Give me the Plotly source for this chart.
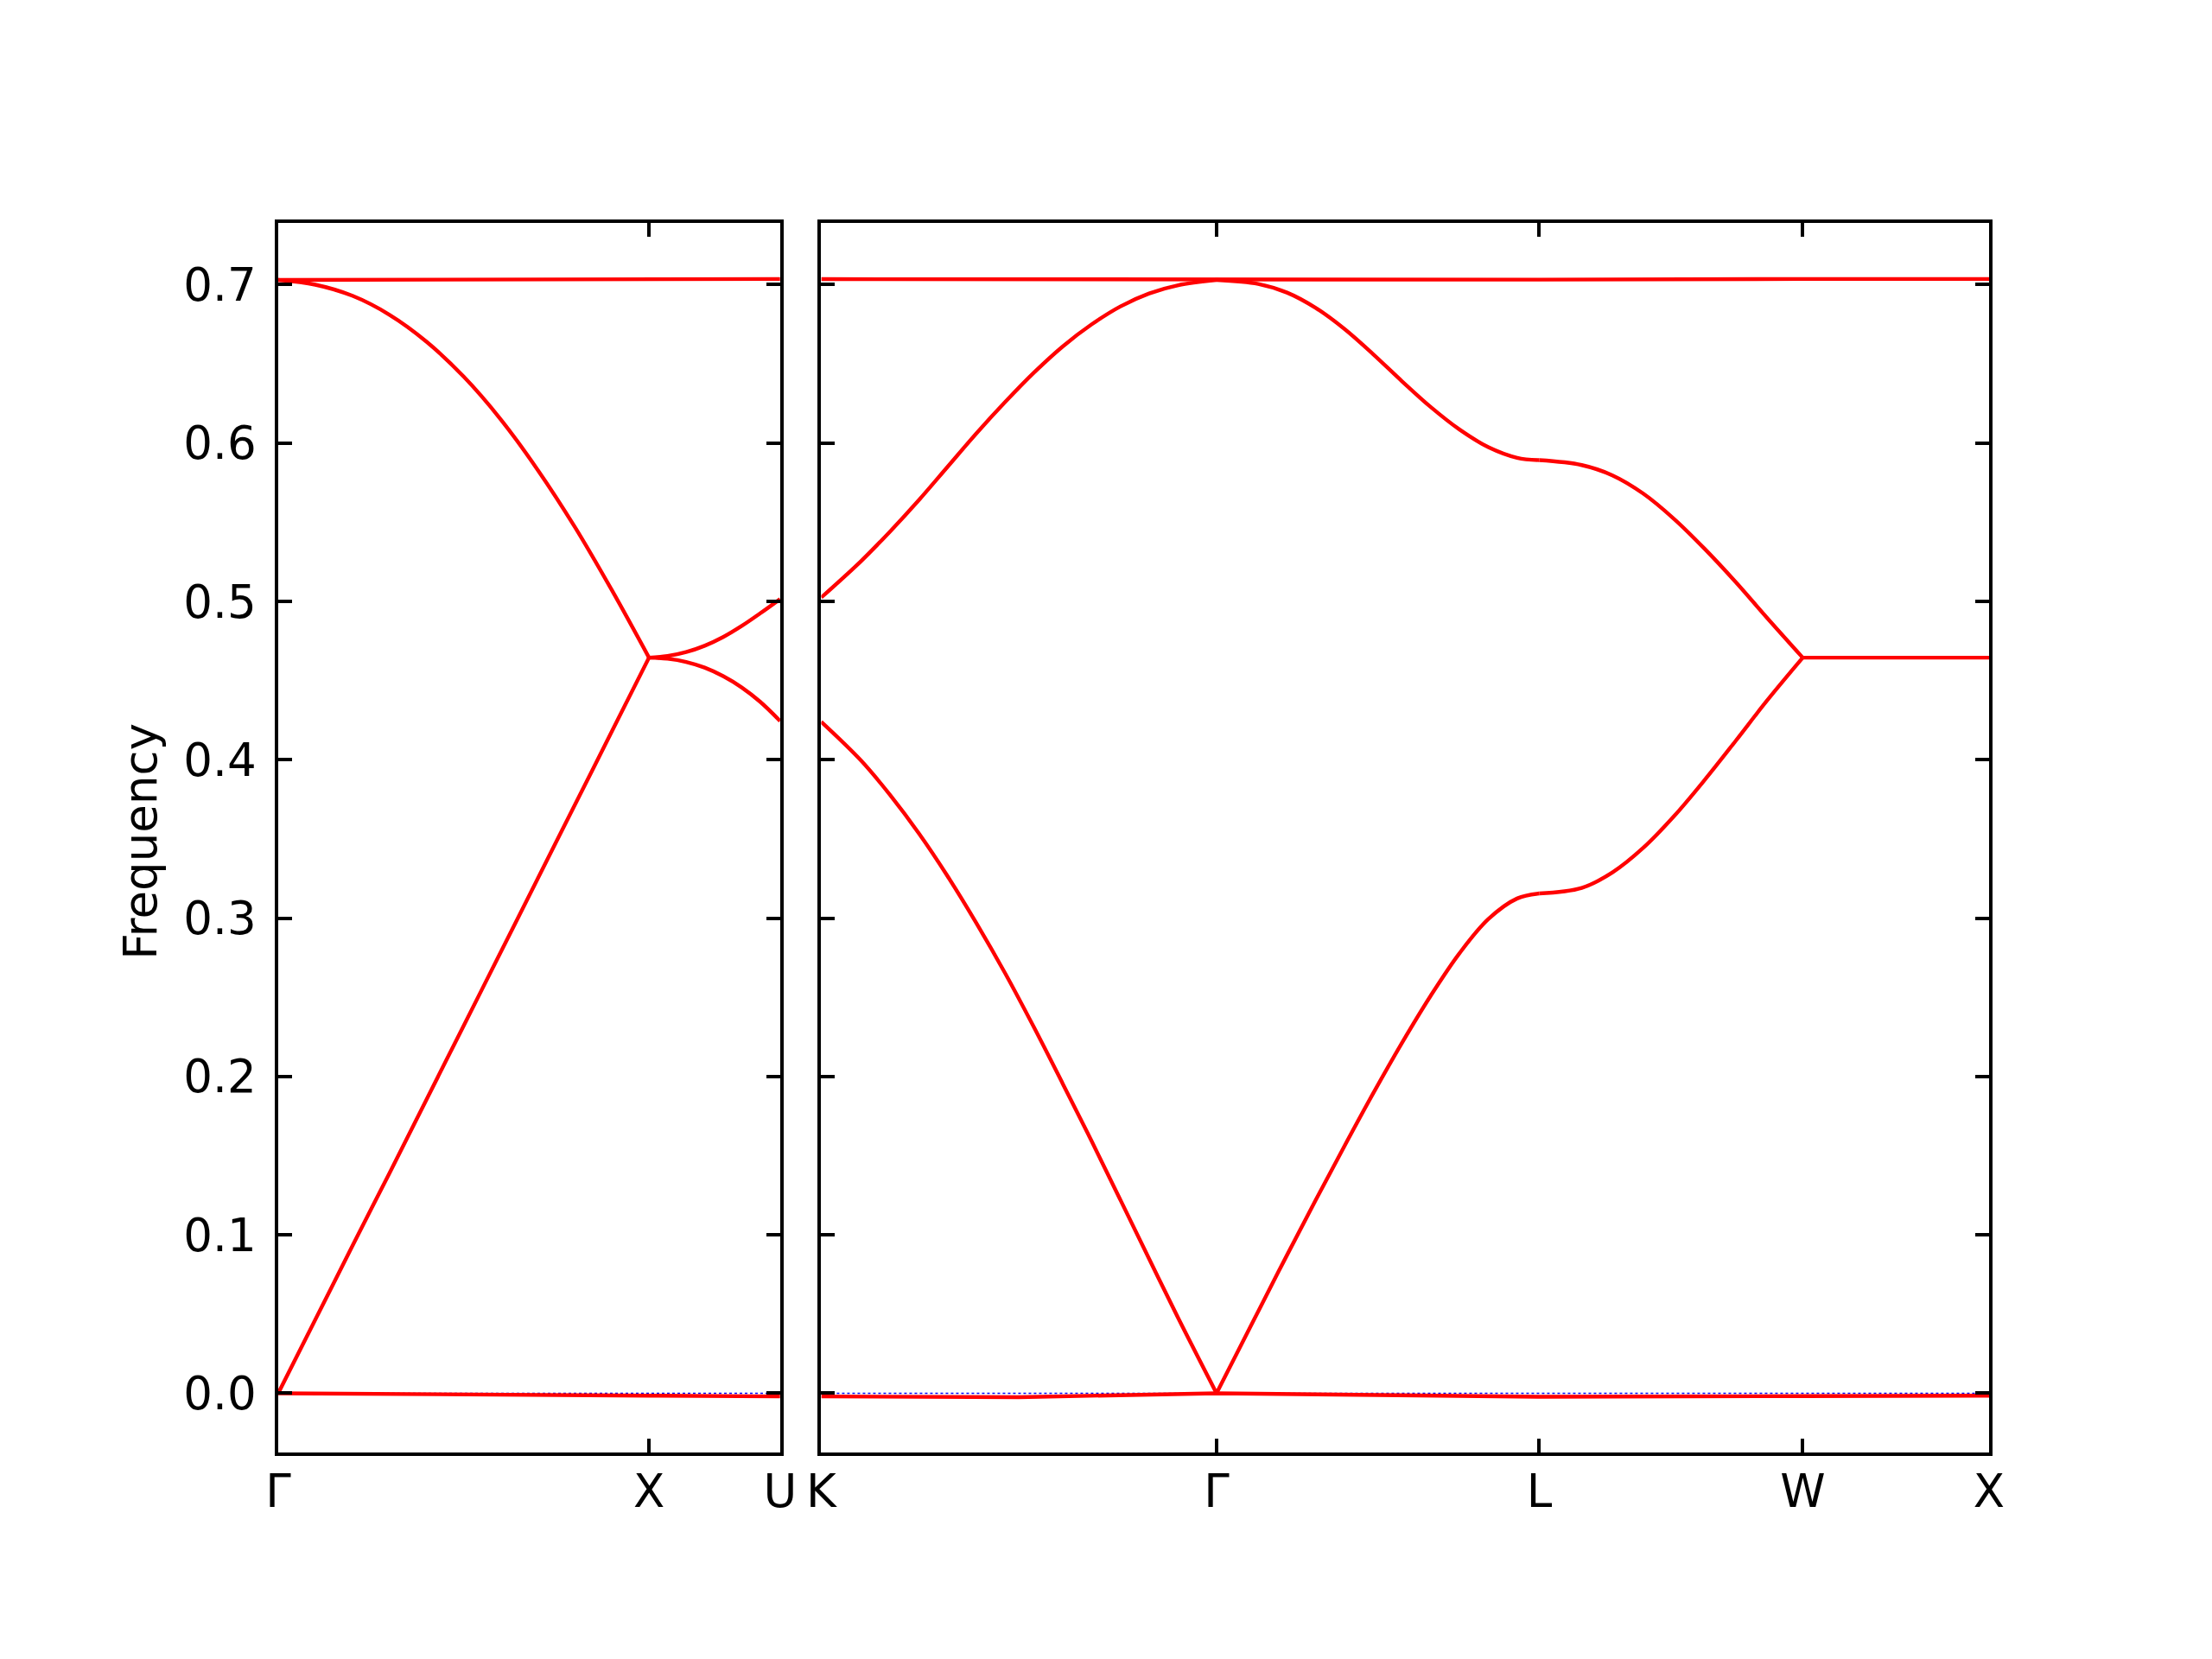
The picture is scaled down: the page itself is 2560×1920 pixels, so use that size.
import plotly.graph_objects as go

# ---------------- data (path length in units of 2*pi/a) ----------------
# Left panel: Gamma -> X -> U
left_tick_k = [0.0, 1.0, 1.3536]
left_tick_labels = ["Γ", "X", "U"]

k_GX = [0.0, 0.1, 0.2, 0.3, 0.4, 0.5, 0.6, 0.7, 0.8, 0.9, 1.0]
gx_upper = [0.703, 0.700, 0.693, 0.681, 0.664, 0.642, 0.615, 0.583, 0.547, 0.507, 0.4645]
gx_lower = [0.0, 0.0465, 0.093, 0.139, 0.1855, 0.232, 0.2785, 0.325, 0.3715, 0.418, 0.4645]

k_XU = [1.0, 1.05, 1.1, 1.15, 1.2, 1.25, 1.3, 1.3536]
xu_upper = [0.4645, 0.4655, 0.468, 0.472, 0.4775, 0.4845, 0.4925, 0.5015]
xu_lower = [0.4645, 0.4638, 0.4618, 0.4582, 0.4528, 0.4457, 0.4366, 0.4245]

k_left_flat = [0.0, 0.5, 1.0, 1.3536]
left_top = [0.703, 0.7033, 0.7036, 0.7036]
left_bottom = [0.0, -0.001, -0.0015, -0.002]

# Right panel: K -> Gamma -> L -> W -> X
right_tick_k = [0.0, 1.0607, 1.9267, 2.6338, 3.1338]
right_tick_labels = ["K", "Γ", "L", "W", "X"]

k_KG = [0.0, 0.107, 0.184, 0.262, 0.339, 0.416, 0.494, 0.571, 0.648, 0.726, 0.803, 0.880, 0.958, 1.0607]
kg_upper = [0.5025, 0.5255, 0.544, 0.564, 0.585, 0.606, 0.626, 0.6445, 0.661, 0.675, 0.6863, 0.6945, 0.6997, 0.703]
kg_lower = [0.424, 0.3995, 0.378, 0.3535, 0.3265, 0.297, 0.265, 0.231, 0.1955, 0.159, 0.122, 0.0848, 0.0474, 0.0]

k_GL = [1.0607, 1.1726, 1.2498, 1.3270, 1.4042, 1.4814, 1.5585, 1.6357, 1.7129, 1.7901, 1.8673, 1.9267]
gl_upper = [0.703, 0.7005, 0.695, 0.6853, 0.672, 0.656, 0.639, 0.6227, 0.6085, 0.5974, 0.5907, 0.5892]
gl_lower = [0.0, 0.0517, 0.0872, 0.122, 0.1562, 0.1895, 0.2213, 0.2511, 0.2779, 0.2994, 0.3124, 0.3156]

k_LW = [1.9267, 2.0407, 2.1233, 2.2059, 2.2885, 2.3711, 2.4537, 2.5363, 2.6338]
lw_upper = [0.5892, 0.5861, 0.5796, 0.5681, 0.5521, 0.5331, 0.5123, 0.4901, 0.4645]
lw_lower = [0.3156, 0.3191, 0.3289, 0.3444, 0.3644, 0.3874, 0.4119, 0.4369, 0.4645]

k_WX = [2.6338, 3.1338]
wx_band = [0.4645, 0.4645]

k_right_flat = [0.0, 0.53, 1.0607, 1.9267, 2.6338, 3.1338]
right_top = [0.7035, 0.7033, 0.703, 0.7032, 0.7036, 0.7036]
right_bottom = [-0.002, -0.0025, 0.0, -0.0022, -0.0018, -0.0015]

# zero reference band (blue dotted)
k_left_zero = [0.0, 1.3536]
k_right_zero = [0.0, 3.1338]
zero_band = [0.0, 0.0]

y_tick_vals = [0.0, 0.1, 0.2, 0.3, 0.4, 0.5, 0.6, 0.7]
y_tick_text = ["0.0", "0.1", "0.2", "0.3", "0.4", "0.5", "0.6", "0.7"]

# ---------------- figure ----------------
W, H = 2560, 1920
OFF = 8      # page body margin
HL = 1.75    # half of spine width (plotly draws axis lines outside the plot area)
# target spine centres in the final picture
SP_L, SP_LR, SP_RL, SP_R, SP_T, SP_B = 320.0, 904.5, 948.6, 2304.0, 256.0, 1682.7

L_PX = SP_L - OFF + HL
R_PX = SP_R - OFF - HL
T_PX = SP_T - OFF + HL
B_PX = SP_B - OFF - HL
plot_w = R_PX - L_PX
plot_h = B_PX - T_PX
left_dom = [0.0, (SP_LR - HL - OFF - L_PX) / plot_w]
right_dom = [(SP_RL + HL - OFF - L_PX) / plot_w, 1.0]

RED = "#ff0000"
LW = 4.4
fig = go.Figure()

def add(x, y, xa, ya, color=RED, width=LW, dash="solid", shape="linear"):
    fig.add_trace(go.Scatter(x=x, y=y, xaxis=xa, yaxis=ya, mode="lines",
                             line=dict(color=color, width=width, dash=dash, shape=shape, smoothing=1.0),
                             hoverinfo="skip", showlegend=False))

# blue dotted zero lines underneath
add(k_left_zero, zero_band, "x", "y", color="#0000ff", width=1.5, dash="dot")
add(k_right_zero, zero_band, "x2", "y2", color="#0000ff", width=1.5, dash="dot")

# left panel
add(k_left_flat, left_top, "x", "y")
add(k_left_flat, left_bottom, "x", "y")
add(k_GX, gx_upper, "x", "y", shape="spline")
add(k_GX, gx_lower, "x", "y", shape="spline")
add(k_XU, xu_upper, "x", "y", shape="spline")
add(k_XU, xu_lower, "x", "y", shape="spline")

# right panel
add(k_right_flat, right_top, "x2", "y2")
add(k_right_flat, right_bottom, "x2", "y2")
add(k_KG, kg_upper, "x2", "y2", shape="spline")
add(k_KG, kg_lower, "x2", "y2", shape="spline")
add(k_GL, gl_upper, "x2", "y2", shape="spline")
add(k_GL, gl_lower, "x2", "y2", shape="spline")
add(k_LW, lw_upper, "x2", "y2", shape="spline")
add(k_LW, lw_lower, "x2", "y2", shape="spline")
add(k_WX, wx_band, "x2", "y2")

FONT = dict(family="DejaVu Sans", size=53, color="black")
axis_common = dict(showline=True, linecolor="black", linewidth=3.5, mirror="allticks",
                   ticks="inside", ticklen=16, tickwidth=3.5, tickcolor="black",
                   showgrid=False, zeroline=False, tickfont=FONT)

yr = [-0.0374, 0.7390]
fig.update_layout(
    width=W, height=H,
    margin=dict(l=L_PX, r=W - R_PX, t=T_PX, b=H - B_PX, pad=0),
    paper_bgcolor="white", plot_bgcolor="white",
    font=FONT,
    showlegend=False,
    xaxis=dict(domain=left_dom, range=[0, 1.3536], tickvals=left_tick_k, ticktext=left_tick_labels,
               anchor="y", ticklabelstandoff=-4, **axis_common),
    yaxis=dict(range=yr, tickvals=y_tick_vals, ticktext=y_tick_text, anchor="x",
               ticklabelstandoff=11, **axis_common),
    xaxis2=dict(domain=right_dom, range=[0, 3.1338], tickvals=right_tick_k, ticktext=right_tick_labels,
                anchor="y2", ticklabelstandoff=-4, **axis_common),
    yaxis2=dict(range=yr, tickvals=y_tick_vals, anchor="x2", matches="y", showticklabels=False,
                **axis_common),
    annotations=[dict(text="Frequency", textangle=-90, xref="paper", yref="paper",
                      x=(162 - OFF - L_PX) / plot_w, y=0.5 - 4 / plot_h,
                      xanchor="center", yanchor="middle",
                      showarrow=False, font=FONT)],
)

fig.write_html("out.html")
